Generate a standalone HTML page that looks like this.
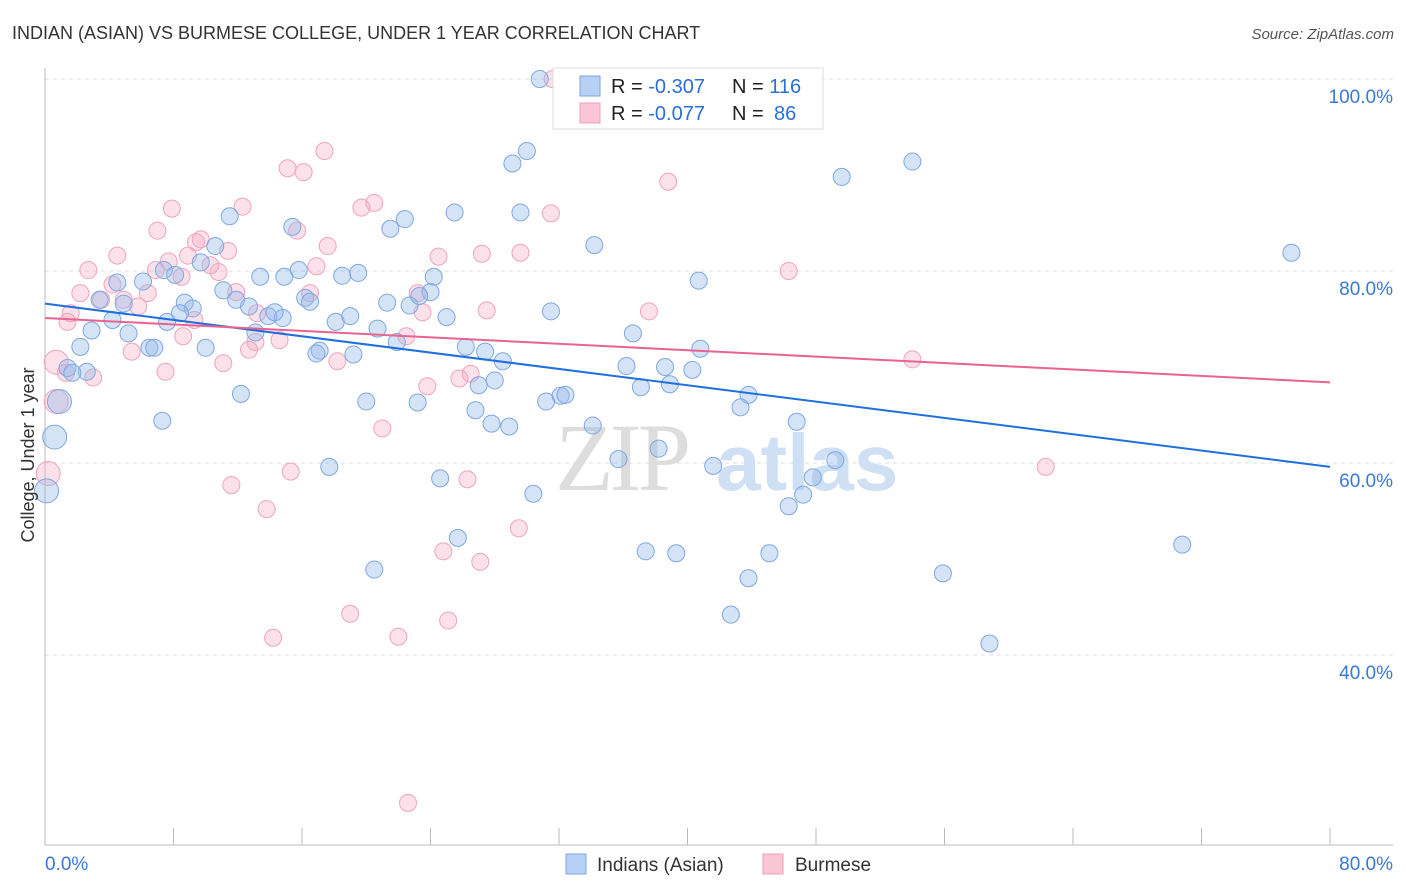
<!DOCTYPE html>
<html><head><meta charset="utf-8"><style>
body{margin:0;background:#fff;font-family:"Liberation Sans",sans-serif;}
svg{display:block}
</style></head><body>
<svg id="chart" width="1406" height="892">
<text x="12" y="39" font-size="18" fill="#333">INDIAN (ASIAN) VS BURMESE COLLEGE, UNDER 1 YEAR CORRELATION CHART</text>
<text x="1394" y="39" font-size="15" fill="#555" font-style="italic" text-anchor="end">Source: ZipAtlas.com</text>
<g id="grid"></g>
<g><text x="555" y="490" font-size="96" fill="#ddd" font-family="Liberation Serif, serif" letter-spacing="-4">ZIP</text><text x="716" y="490" font-size="80" fill="#cfe0f4" font-weight="bold">atlas</text></g>
<g id="pts"></g>
<g id="lines"></g>
<text transform="translate(34,455) rotate(-90)" text-anchor="middle" font-size="18" fill="#333">College, Under 1 year</text>
<g>
<rect x="553" y="68" width="270" height="61" fill="#fff" stroke="#ddd"/>
<rect x="580" y="76" width="20" height="20" fill="#b8d0f4" stroke="#7aa6e0"/>
<rect x="580" y="103" width="20" height="20" fill="#fac6d6" stroke="#ee9fbd"/>
<text x="611" y="93" font-size="20" fill="#222">R = <tspan fill="#2a6fd6">-0.307</tspan><tspan x="732">N = </tspan><tspan fill="#2a6fd6">116</tspan></text>
<text x="611" y="120" font-size="20" fill="#222">R = <tspan fill="#2a6fd6">-0.077</tspan><tspan x="732">N = </tspan><tspan fill="#2a6fd6" x="774">86</tspan></text>
</g>
<g>
<rect x="566" y="854" width="20" height="20" fill="#b8d0f4" stroke="#7aa6e0"/>
<text x="597" y="871" font-size="19" fill="#333">Indians (Asian)</text>
<rect x="763" y="854" width="20" height="20" fill="#fac6d6" stroke="#ee9fbd"/>
<text x="795" y="871" font-size="19" fill="#333">Burmese</text>
</g>
</svg>
<script>
const yTicks=[40,60,80,100];
const yTickLabels=["40.0%","60.0%","80.0%","100.0%"];
const xTicks=[0,8,16,24,32,40,48,56,64,72,80];
const blueX=[30.8,30.0,29.1,49.6,54.0,77.6,29.6,25.5,22.4,21.5,11.5,15.4,34.2,10.6,9.7,7.4,4.5,6.1,8.1,13.4,14.9,15.8,18.5,19.5,24.2,24.0,21.3,22.7,23.3,16.2,16.5,11.1,11.9,12.7,8.7,9.2,8.4,7.6,3.4,4.9,4.2,2.9,5.2,2.2,1.4,2.6,1.7,6.5,6.8,10.0,13.1,13.9,14.8,14.3,18.1,19.0,20.7,21.9,19.2,17.1,16.9,25.0,31.5,26.2,27.4,28.5,28.0,27.0,26.8,27.8,28.9,31.2,32.1,32.4,30.4,23.2,20.0,12.2,7.3,17.7,24.6,25.7,20.5,36.6,36.2,37.1,38.6,38.9,40.3,40.8,40.7,43.8,43.3,46.8,41.6,35.7,38.2,34.1,49.2,47.8,47.2,46.3,37.4,39.3,45.1,43.8,42.7,55.9,58.8,70.8,0.9,0.6,0.1];
const blueY=[100.0,92.5,91.2,89.8,91.4,81.9,86.1,86.1,85.4,84.4,85.7,84.6,82.7,82.6,80.9,80.1,78.8,78.9,79.6,79.4,79.4,80.1,79.5,79.8,79.4,77.8,76.7,76.4,77.4,77.2,76.8,78.0,77.0,76.3,76.7,76.1,75.6,74.7,77.0,76.6,74.9,73.8,73.5,72.1,69.9,69.5,69.4,72.0,72.0,72.0,73.6,75.3,75.1,75.7,74.7,75.3,74.0,72.6,71.3,71.7,71.4,75.2,75.8,72.1,71.6,70.6,68.6,68.1,65.5,64.1,63.8,66.4,67.0,67.1,56.8,66.3,66.4,67.2,64.4,59.6,58.4,52.2,48.9,73.5,70.1,67.9,70.0,68.2,69.7,71.9,79.0,67.1,65.8,64.3,59.7,60.4,61.5,63.9,60.3,58.5,56.7,55.5,50.8,50.6,50.6,48.0,44.2,48.5,41.2,51.5,66.4,62.7,57.1];
const blueBig=[0,0,0,0,0,0,0,0,0,0,0,0,0,0,0,0,0,0,0,0,0,0,0,0,0,0,0,0,0,0,0,0,0,0,0,0,0,0,0,0,0,0,0,0,0,0,0,0,0,0,0,0,0,0,0,0,0,0,0,0,0,0,0,0,0,0,0,0,0,0,0,0,0,0,0,0,0,0,0,0,0,0,0,0,0,0,0,0,0,0,0,0,0,0,0,0,0,0,0,0,0,0,0,0,0,0,0,0,0,0,1,1,1];
const pinkX=[31.6,17.4,15.1,16.1,38.8,20.5,19.7,12.3,7.9,31.5,7.0,15.7,9.7,9.4,11.4,17.6,24.5,27.2,29.6,4.5,8.9,7.7,16.9,6.9,2.7,46.3,10.8,8.5,10.3,4.2,2.2,6.4,11.9,16.5,23.2,3.5,4.9,5.8,1.6,1.4,9.3,13.2,23.5,27.5,37.6,8.6,13.1,14.6,22.5,5.4,12.7,0.7,11.1,18.2,54.0,1.3,3.0,7.5,25.8,26.5,23.8,0.7,21.0,15.3,26.3,62.3,11.6,0.2,13.8,29.5,24.8,27.1,19.0,25.1,14.2,22.0,22.6];
const pinkY=[100.0,92.5,90.7,90.3,89.3,87.1,86.6,86.7,86.5,86.0,84.2,84.2,83.3,83.0,82.1,82.6,81.5,81.8,81.9,81.6,81.6,81.0,80.5,80.1,80.1,80.0,79.9,79.4,80.6,78.6,77.7,77.7,77.8,77.7,77.7,77.0,77.0,76.3,75.6,74.7,74.9,75.6,75.7,75.9,75.8,73.2,72.6,72.8,73.2,71.6,71.8,70.5,70.4,70.6,70.8,69.4,68.9,69.5,68.8,69.3,68.0,66.4,63.6,59.1,58.3,59.6,57.7,58.9,55.2,53.2,50.8,49.7,44.3,43.6,41.8,41.9,24.6];
const pinkBig=[0,0,0,0,0,0,0,0,0,0,0,0,0,0,0,0,0,0,0,0,0,0,0,0,0,0,0,0,0,0,0,0,0,0,0,0,0,0,0,0,0,0,0,0,0,0,0,0,0,0,0,1,0,0,0,0,0,0,0,0,0,1,0,0,0,0,0,1,0,0,0,0,0,0,0,0,0];
const blueTrend=[76.6,59.6];
const pinkTrend=[75.1,68.4];
const NS="http://www.w3.org/2000/svg";
const X0=45,X1=1330;
function sx(v){return X0+(X1-X0)*v/80;}
function sy(v){return 79+(100-v)*9.6;}
function mk(t,a,p){const e=document.createElementNS(NS,t);for(const k in a)e.setAttribute(k,a[k]);p.appendChild(e);return e;}
const grid=document.getElementById('grid');
yTicks.forEach((v,i)=>{
 const l=mk('line',{x1:X0,x2:1393,y1:sy(v),y2:sy(v),stroke:'#ddd','stroke-dasharray':'4,4'},grid);
 
 
 const t=mk('text',{x:1393,y:sy(v)+24,'text-anchor':'end','font-size':19,fill:'#3a78d8'},grid);
 t.textContent=yTickLabels[i];
 
 
});
const ax=mk('line',{x1:X0,x2:X0,y1:68,y2:845,stroke:'#bbb'},grid);


const bx=mk('line',{x1:X0,x2:1393,y1:845,y2:845,stroke:'#bbb'},grid);


xTicks.forEach(v=>{
 const l=mk('line',{x1:sx(v),x2:sx(v),y1:828,y2:845,stroke:'#bbb'},grid);
 
 
});
const xl0=mk('text',{x:45,y:870,'font-size':19,fill:'#3a78d8'},grid);xl0.textContent='0.0%';


const xl1=mk('text',{x:1393,y:870,'font-size':19,fill:'#3a78d8','text-anchor':'end'},grid);xl1.textContent='80.0%';


const pts=document.getElementById('pts');
pinkX.forEach((v,i)=>{
 const c=mk('circle',{cx:sx(v),cy:sy(pinkY[i]),r:pinkBig[i]?12:8.5,fill:'rgba(246,170,196,0.35)',stroke:'#efa3be','stroke-width':1},pts);
 
 
});
blueX.forEach((v,i)=>{
 const c=mk('circle',{cx:sx(v),cy:sy(blueY[i]),r:blueBig[i]?12:8.5,fill:'rgba(150,186,236,0.4)',stroke:'#7ea8e0','stroke-width':1},pts);
 
 
});
const lines=document.getElementById('lines');
const bl=mk('line',{x1:sx(0),x2:sx(80),y1:sy(blueTrend[0]),y2:sy(blueTrend[1]),stroke:'#1f6fdc','stroke-width':2},lines);


const pl=mk('line',{x1:sx(0),x2:sx(80),y1:sy(pinkTrend[0]),y2:sy(pinkTrend[1]),stroke:'#e8648e','stroke-width':2},lines);


</script>
</body></html>
